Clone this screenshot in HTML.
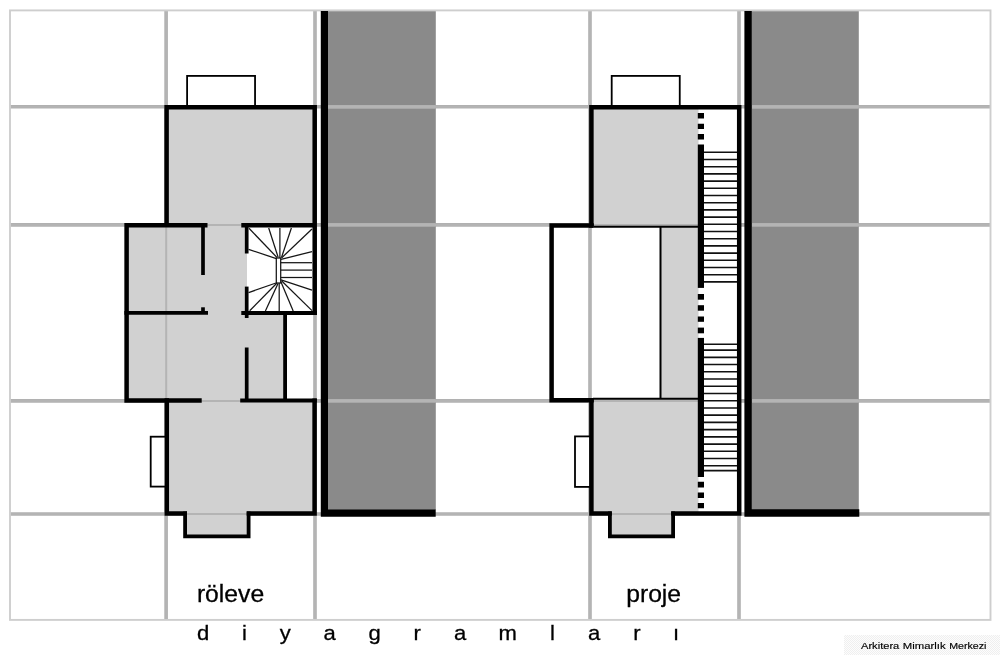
<!DOCTYPE html>
<html><head><meta charset="utf-8">
<style>
html,body{margin:0;padding:0;background:#fff;}
body{width:1000px;height:655px;overflow:hidden;position:relative;font-family:"Liberation Sans",sans-serif;}
svg{position:absolute;left:0;top:0;filter:grayscale(1);}
text{font-family:"Liberation Sans",sans-serif;fill:#000;}
</style></head><body>
<svg width="1000" height="655" viewBox="0 0 1000 655">
<rect width="1000" height="655" fill="#fff"/>

<!-- wide grid -->
<g stroke="#b1b1b1" stroke-width="3.6" fill="none">
<path d="M166.1,10 V620 M315,10 V620 M590,10 V620 M739,10 V620 M10,106.8 H990 M10,224.9 H990 M10,400.9 H990 M10,514 H990"/>
</g>
<!-- fills : left house -->
<g fill="#d1d1d1">
<rect x="166.5" y="107.5" width="148.5" height="118"/>
<rect x="126.5" y="225" width="120.5" height="90"/>
<rect x="126.5" y="313" width="158.5" height="88"/>
<rect x="166.5" y="400" width="148.5" height="113.5"/>
<rect x="185" y="513" width="63.6" height="23.4"/>
</g>
<!-- fills : right house -->
<g fill="#d1d1d1">
<rect x="591.5" y="107.5" width="107" height="118.5"/>
<rect x="660.5" y="226" width="38" height="173"/>
<rect x="591.5" y="399" width="107" height="114.5"/>
<rect x="610" y="513" width="63" height="23.4"/>
</g>

<!-- party walls dark -->
<rect x="328" y="11" width="107.8" height="499" fill="#8a8a8a"/>
<rect x="751.5" y="11" width="107.3" height="499" fill="#8a8a8a"/>

<!-- grid over dark + thin grid over light -->
<g stroke="#b1b1b1" stroke-width="3.8" fill="none">
<path d="M328,106.8 H435.8 M328,224.9 H435.8 M328,400.9 H435.8 M751.5,106.8 H858.8 M751.5,224.9 H858.8 M751.5,400.9 H858.8"/>
</g>
<g stroke="#b4b4b4" stroke-width="2" fill="none">
<path d="M166.2,10 V620 M315,10 V620 M590,10 V620 M739,10 V620 M10,106.8 H990 M10,224.9 H990 M10,400.9 H990 M10,514 H990"/>
</g>
<rect x="10" y="10.4" width="980.5" height="609.5" fill="none" stroke="#cecece" stroke-width="1.9"/>

<!-- thick party lines -->
<path d="M324.4,11 V513.05 H435.7" fill="none" stroke="#000" stroke-width="7.2" stroke-linejoin="miter"/>
<path d="M748.1,11 V513.05 H859.3" fill="none" stroke="#000" stroke-width="7.4" stroke-linejoin="miter"/>

<!-- left house: balconies -->
<g fill="#fff" stroke="#000" stroke-width="1.8">
<rect x="187.1" y="75.9" width="67.95" height="31"/>
<rect x="150.7" y="436.7" width="15.5" height="49.9"/>
<rect x="611.7" y="75.9" width="68.05" height="31"/>
<rect x="575" y="436.4" width="15.5" height="50.5"/>
</g>

<!-- left stair room white -->
<rect x="247.5" y="225.6" width="67" height="87.5" fill="#fff"/>

<!-- left stairs -->
<g stroke="#151515" stroke-width="1.25" fill="none">
<rect x="276.3" y="258" width="4.4" height="25"/>
<line x1="248.6" y1="249.3" x2="276.3" y2="258.6"/>
<line x1="249" y1="228.3" x2="277" y2="257.5"/>
<line x1="268.7" y1="228" x2="278.2" y2="257.5"/>
<line x1="279.9" y1="228" x2="279.9" y2="258"/>
<line x1="291.4" y1="228" x2="281.5" y2="257.5"/>
<line x1="312" y1="229" x2="281.5" y2="258"/>
<line x1="312" y1="251.7" x2="281" y2="259.3"/>
<line x1="280.7" y1="262.7" x2="312" y2="262.7"/>
<line x1="280.7" y1="270.1" x2="312" y2="270.1"/>
<line x1="280.7" y1="277.5" x2="312" y2="277.5"/>
<line x1="248.6" y1="292.6" x2="276" y2="283"/>
<line x1="249.7" y1="310.8" x2="277" y2="283"/>
<line x1="265.4" y1="311" x2="278" y2="283.5"/>
<line x1="279.2" y1="311" x2="279.2" y2="283"/>
<line x1="293.2" y1="311" x2="281" y2="282"/>
<line x1="312" y1="310.6" x2="281.5" y2="280.8"/>
<line x1="312" y1="290.2" x2="281" y2="279.8"/>
</g>

<!-- left house walls -->
<g fill="none" stroke="#000" stroke-width="4.5" stroke-linejoin="miter" stroke-linecap="butt">
<path d="M207.5,225.2 H126.6 V400.5 H201.7"/>
<path d="M166.6,227 V107.2 H314.7 V315.1"/>
<path d="M241.3,225.3 H314.7"/>
<path d="M124.4,312.9 H208" stroke-width="3.8"/>
<path d="M241.3,313 H316.9" stroke-width="4"/>
<path d="M285.1,313 V400" stroke-width="3.8"/>
<path d="M240.2,400.5 H316.8" stroke-width="4.1"/>
<path d="M166.8,398.2 V513.6 H187 M246.7,513.6 H314.6 V398.5"/>
<path d="M185.1,511.4 V536.35 H248.6 V511.4" stroke-width="3.8"/>
</g>
<g fill="none" stroke="#000" stroke-width="3.7">
<path d="M203,225.4 V275"/>
<path d="M203,307.3 V313"/>
<path d="M246.7,225.5 V253.5"/>
<path d="M246.7,286.6 V318"/>
<path d="M246.7,347.5 V400"/>
</g>

<!-- right house -->
<rect x="703" y="108" width="35" height="405" fill="#fff"/>
<g>
<line x1="704" y1="152.30" x2="737.2" y2="152.30" stroke="#111" stroke-width="1.6"/>
<line x1="704" y1="159.50" x2="737.2" y2="159.50" stroke="#111" stroke-width="1.6"/>
<line x1="704" y1="166.70" x2="737.2" y2="166.70" stroke="#111" stroke-width="1.6"/>
<line x1="704" y1="173.90" x2="737.2" y2="173.90" stroke="#111" stroke-width="1.6"/>
<line x1="704" y1="181.10" x2="737.2" y2="181.10" stroke="#111" stroke-width="1.6"/>
<line x1="704" y1="188.30" x2="737.2" y2="188.30" stroke="#111" stroke-width="1.6"/>
<line x1="704" y1="195.50" x2="737.2" y2="195.50" stroke="#111" stroke-width="1.6"/>
<line x1="704" y1="202.70" x2="737.2" y2="202.70" stroke="#111" stroke-width="1.6"/>
<line x1="704" y1="209.90" x2="737.2" y2="209.90" stroke="#111" stroke-width="1.6"/>
<line x1="704" y1="217.10" x2="737.2" y2="217.10" stroke="#111" stroke-width="1.6"/>
<line x1="704" y1="224.30" x2="737.2" y2="224.30" stroke="#111" stroke-width="1.6"/>
<line x1="704" y1="231.50" x2="737.2" y2="231.50" stroke="#111" stroke-width="1.6"/>
<line x1="704" y1="238.70" x2="737.2" y2="238.70" stroke="#111" stroke-width="1.6"/>
<line x1="704" y1="245.90" x2="737.2" y2="245.90" stroke="#111" stroke-width="1.6"/>
<line x1="704" y1="253.10" x2="737.2" y2="253.10" stroke="#111" stroke-width="1.6"/>
<line x1="704" y1="260.30" x2="737.2" y2="260.30" stroke="#111" stroke-width="1.6"/>
<line x1="704" y1="267.50" x2="737.2" y2="267.50" stroke="#111" stroke-width="1.6"/>
<line x1="704" y1="274.70" x2="737.2" y2="274.70" stroke="#111" stroke-width="1.6"/>
<line x1="704" y1="281.90" x2="737.2" y2="281.90" stroke="#111" stroke-width="1.6"/>
<line x1="704" y1="344.20" x2="737.2" y2="344.20" stroke="#111" stroke-width="1.6"/>
<line x1="704" y1="350.10" x2="737.2" y2="350.10" stroke="#111" stroke-width="1.6"/>
<line x1="704" y1="357.33" x2="737.2" y2="357.33" stroke="#111" stroke-width="1.6"/>
<line x1="704" y1="364.56" x2="737.2" y2="364.56" stroke="#111" stroke-width="1.6"/>
<line x1="704" y1="371.79" x2="737.2" y2="371.79" stroke="#111" stroke-width="1.6"/>
<line x1="704" y1="379.02" x2="737.2" y2="379.02" stroke="#111" stroke-width="1.6"/>
<line x1="704" y1="386.25" x2="737.2" y2="386.25" stroke="#111" stroke-width="1.6"/>
<line x1="704" y1="393.48" x2="737.2" y2="393.48" stroke="#111" stroke-width="1.6"/>
<line x1="704" y1="400.71" x2="737.2" y2="400.71" stroke="#111" stroke-width="1.6"/>
<line x1="704" y1="407.94" x2="737.2" y2="407.94" stroke="#111" stroke-width="1.6"/>
<line x1="704" y1="415.17" x2="737.2" y2="415.17" stroke="#111" stroke-width="1.6"/>
<line x1="704" y1="422.40" x2="737.2" y2="422.40" stroke="#111" stroke-width="1.6"/>
<line x1="704" y1="429.63" x2="737.2" y2="429.63" stroke="#111" stroke-width="1.6"/>
<line x1="704" y1="436.86" x2="737.2" y2="436.86" stroke="#111" stroke-width="1.6"/>
<line x1="704" y1="444.09" x2="737.2" y2="444.09" stroke="#111" stroke-width="1.6"/>
<line x1="704" y1="451.32" x2="737.2" y2="451.32" stroke="#111" stroke-width="1.6"/>
<line x1="704" y1="458.55" x2="737.2" y2="458.55" stroke="#111" stroke-width="1.6"/>
<line x1="704" y1="465.78" x2="737.2" y2="465.78" stroke="#111" stroke-width="1.6"/>
<line x1="704" y1="470.60" x2="737.2" y2="470.60" stroke="#111" stroke-width="1.6"/>
</g>
<rect x="697.80" y="113.00" width="6.2" height="5.50" fill="#000"/>
<rect x="697.80" y="123.75" width="6.2" height="5.25" fill="#000"/>
<rect x="697.80" y="134.00" width="6.2" height="5.50" fill="#000"/>
<rect x="697.80" y="144.50" width="6.2" height="143.40" fill="#000"/>
<rect x="697.80" y="294.00" width="6.2" height="5.70" fill="#000"/>
<rect x="697.80" y="305.20" width="6.2" height="5.50" fill="#000"/>
<rect x="697.80" y="316.50" width="6.2" height="5.30" fill="#000"/>
<rect x="697.80" y="327.60" width="6.2" height="5.70" fill="#000"/>
<rect x="697.80" y="337.90" width="6.2" height="139.10" fill="#000"/>
<rect x="697.80" y="481.75" width="6.2" height="5.75" fill="#000"/>
<rect x="697.80" y="492.50" width="6.2" height="5.50" fill="#000"/>
<rect x="697.80" y="503.00" width="6.2" height="5.25" fill="#000"/>
<g fill="none" stroke="#000" stroke-width="2">
<path d="M594,226.8 H698"/>
<path d="M593,398.8 H698"/>
<path d="M660.5,226 V399"/>
</g>
<g fill="none" stroke="#000" stroke-width="4.5" stroke-linejoin="miter">
<path d="M591.4,227.7 V107.2 H739.2 V513.6 H671.2 M611.8,513.6 H591.4 V397.9"/>
<path d="M609.9,511.4 V536.35 H673.1 V511.4" stroke-width="3.8"/>
<path d="M593.8,225.5 H551.6 V400.15 H593.8"/>
</g>

<!-- labels -->
<text x="196.9" y="601.8" font-size="24.7" stroke="#000" stroke-width="0.3">röleve</text>
<text x="626.2" y="601.8" font-size="24.7" stroke="#000" stroke-width="0.3">proje</text>
<text font-size="21" y="640.2" transform="scale(1.05,1)" stroke="#000" stroke-width="0.3" x="187.52 230.48 266.38 308.00 351.05 393.81 432.48 474.86 523.90 560.00 603.05 641.05">diyagramları</text>

<!-- watermark -->
<defs><pattern id="dith" width="2" height="2" patternUnits="userSpaceOnUse"><rect width="2" height="2" fill="#fdfdfd"/><rect width="1" height="1" fill="#efefef"/><rect x="1" y="1" width="1" height="1" fill="#efefef"/></pattern></defs>
<rect x="844" y="635" width="156" height="20" fill="url(#dith)"/>
<text y="649" font-size="9.8" stroke="#000" stroke-width="0.15" lengthAdjust="spacingAndGlyphs"><tspan x="861" textLength="38.3" lengthAdjust="spacingAndGlyphs">Arkitera</tspan> <tspan x="902.8" textLength="42.8" lengthAdjust="spacingAndGlyphs">Mimarlık</tspan> <tspan x="949.2" textLength="37.3" lengthAdjust="spacingAndGlyphs">Merkezi</tspan></text>
</svg>
</body></html>
